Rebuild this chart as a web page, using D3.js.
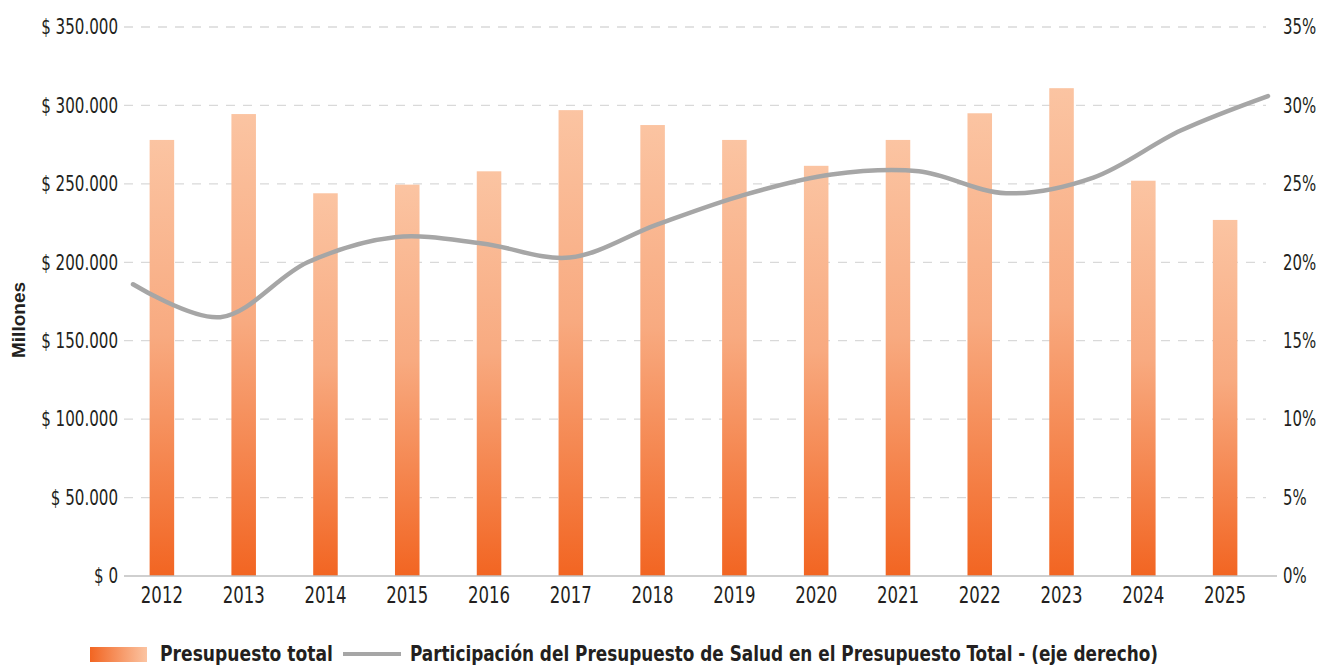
<!DOCTYPE html>
<html>
<head>
<meta charset="utf-8">
<script src="https://cdn.jsdelivr.net/npm/d3@7"></script>
<style>
  html, body { margin: 0; padding: 0; background: #fff; }
  svg { display: block; }
  text { font-family: "Liberation Sans Narrow", "DejaVu Sans Condensed", "Liberation Sans", sans-serif; fill: #231F20; }
</style>
</head>
<body>
<svg id="chart" width="1321" height="667"></svg>
<script>
const years = ["2012","2013","2014","2015","2016","2017","2018","2019","2020","2021","2022","2023","2024","2025"];
const presupuestoTotal = [278000, 294500, 244000, 249500, 258000, 297000, 287500, 278000, 261500, 278000, 295000, 311000, 252000, 227000];
const participacionSalud = [0.186, 0.165, 0.200, 0.216, 0.212, 0.203, 0.224, 0.243, 0.256, 0.258, 0.244, 0.254, 0.284, 0.306];
const leftTicks = [0, 50000, 100000, 150000, 200000, 250000, 300000, 350000];
const rightTicks = [0, 0.05, 0.10, 0.15, 0.20, 0.25, 0.30, 0.35];
const seriesNames = ["Presupuesto total", "Participación del Presupuesto de Salud en el Presupuesto Total - (eje derecho)"];
const yAxisTitle = "Millones";

const svg = d3.select("#chart");
const plot = { left: 121, right: 1266, top: 27, bottom: 576 };
const condFont = '"Liberation Sans Narrow", "DejaVu Sans Condensed", sans-serif';

const locale = d3.formatLocale({ decimal: ",", thousands: ".", grouping: [3], currency: ["$ ", ""] });
const fmtLeft = v => "$ " + locale.format(",")(v);
const fmtRight = v => d3.format(".0%")(v);

const x = d3.scaleBand().domain(years).range([plot.left, plot.right]).paddingInner(0.7).paddingOuter(0.35);
const xLine = d3.scalePoint().domain(years).range([133, 1268]).padding(0);
const yL = d3.scaleLinear().domain([0, 350000]).range([plot.bottom, plot.top]);
const yR = d3.scaleLinear().domain([0, 0.35]).range([plot.bottom, plot.top]);

const defs = svg.append("defs");
const gBar = defs.append("linearGradient").attr("id", "barGrad").attr("x1", 0).attr("y1", 1).attr("x2", 0).attr("y2", 0);
gBar.append("stop").attr("offset", "0%").attr("stop-color", "#F26522");
gBar.append("stop").attr("offset", "55%").attr("stop-color", "#F8AA80");
gBar.append("stop").attr("offset", "100%").attr("stop-color", "#FBC4A2");
const gLeg = defs.append("linearGradient").attr("id", "legGrad").attr("x1", 0).attr("y1", 0).attr("x2", 1).attr("y2", 0);
gLeg.append("stop").attr("offset", "0%").attr("stop-color", "#F26522");
gLeg.append("stop").attr("offset", "100%").attr("stop-color", "#FBC4A2");

// gridlines
svg.append("g").selectAll("line").data(leftTicks.filter(d => d > 0)).join("line")
  .attr("x1", 124).attr("x2", 1266)
  .attr("y1", d => yL(d)).attr("y2", d => yL(d))
  .attr("stroke", "#D9D9D9").attr("stroke-width", 1.3).attr("stroke-dasharray", "9,8");

// left axis labels
const axL = svg.append("g").attr("transform", `translate(118,0)`)
  .call(d3.axisLeft(yL).tickValues(leftTicks).tickFormat(fmtLeft).tickSize(0).tickPadding(0));
axL.select(".domain").remove();
axL.selectAll("text").attr("font-size", 21).attr("fill", "#231F20").style("font-family", condFont)
  .attr("transform", "scale(0.8,1)");

// right axis labels
const axR = svg.append("g").attr("transform", `translate(1283,0)`)
  .call(d3.axisRight(yR).tickValues(rightTicks).tickFormat(fmtRight).tickSize(0).tickPadding(0));
axR.select(".domain").remove();
axR.selectAll("text").attr("font-size", 21).attr("fill", "#231F20").style("font-family", condFont)
  .attr("transform", "scale(0.79,1)");

// bars
svg.append("g").selectAll("rect").data(years).join("rect")
  .attr("x", d => x(d))
  .attr("width", x.bandwidth())
  .attr("y", (d, i) => yL(presupuestoTotal[i]))
  .attr("height", (d, i) => yL(0) - yL(presupuestoTotal[i]))
  .attr("fill", "url(#barGrad)");

// baseline
svg.append("line").attr("x1", 124).attr("x2", 1277).attr("y1", yL(0)).attr("y2", yL(0))
  .attr("stroke", "#BFBFBF").attr("stroke-width", 1.5);

// x axis labels
const axX = svg.append("g").attr("transform", `translate(0,${plot.bottom})`)
  .call(d3.axisBottom(x).tickSize(0).tickPadding(10));
axX.select(".domain").remove();
axX.selectAll("text").attr("font-size", 23).attr("fill", "#231F20").attr("dy", "0.75em")
  .style("font-family", condFont)
  .attr("transform", "scale(0.8,1)");

// line
const lineGen = d3.line()
  .x((d, i) => xLine(years[i]))
  .y(d => yR(d))
  .curve(d3.curveCatmullRom.alpha(0.5));
svg.append("path").datum(participacionSalud)
  .attr("d", lineGen)
  .attr("fill", "none").attr("stroke", "#A6A6A6").attr("stroke-width", 4.5)
  .attr("stroke-linecap", "round").attr("stroke-linejoin", "round");

// y axis title
svg.append("text")
  .attr("transform", `translate(25,320) rotate(-90)`)
  .attr("text-anchor", "middle")
  .attr("font-size", 19).attr("font-weight", "bold")
  .style("font-family", '"Liberation Sans", Arial, sans-serif')
  .attr("fill", "#000")
  .text(yAxisTitle);

// legend
const leg = svg.append("g");
leg.append("rect").attr("x", 90).attr("y", 647).attr("width", 57).attr("height", 15).attr("fill", "url(#legGrad)");
leg.append("text").attr("x", 160).attr("y", 661).attr("font-size", 22).attr("font-weight", "bold")
  .attr("textLength", 173).attr("lengthAdjust", "spacingAndGlyphs")
  .text(seriesNames[0]);
leg.append("line").attr("x1", 343).attr("x2", 401).attr("y1", 654).attr("y2", 654)
  .attr("stroke", "#A6A6A6").attr("stroke-width", 4);
leg.append("text").attr("x", 410).attr("y", 661).attr("font-size", 22).attr("font-weight", "bold")
  .attr("textLength", 748).attr("lengthAdjust", "spacingAndGlyphs")
  .text(seriesNames[1]);
</script>
</body>
</html>
